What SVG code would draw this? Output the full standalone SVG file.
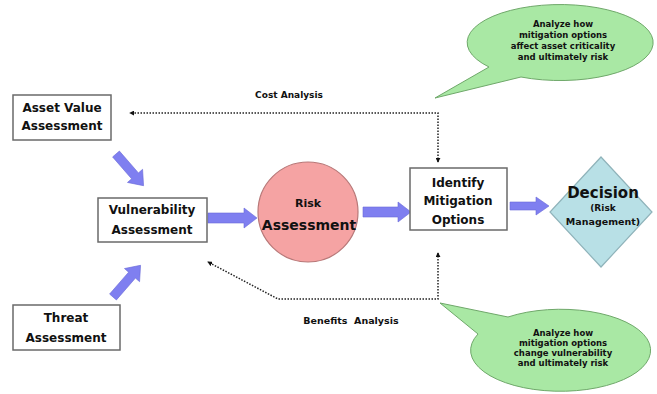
<svg xmlns="http://www.w3.org/2000/svg" xmlns:xlink="http://www.w3.org/1999/xlink" width="657" height="394" viewBox="0 0 657 394">
<style>
.box{fill:#fff;stroke:#6a6a6a;stroke-width:1.5}
.lbl{font-family:"DejaVu Sans","Liberation Sans",sans-serif;font-weight:bold;fill:#111;text-anchor:middle}
.blk{fill:#7f7ff0;stroke:#6a6ad8;stroke-width:0.6}
.dot{fill:none;stroke:#222;stroke-width:1.5;stroke-dasharray:1.5 1.5}
.bub{fill:#a9e8a4;stroke:#6fa86a;stroke-width:1}
</style>
<defs>
<marker id="ah" viewBox="0 0 6 6" refX="5" refY="3" markerWidth="5" markerHeight="5" orient="auto-start-reverse" markerUnits="userSpaceOnUse">
<path d="M0,0 L6,3 L0,6 Z" fill="#111"/>
</marker>
<path id="darrow" d="M0,-4.5 H29 V-10 L42,0 L29,10 V4.5 H0 Z"/>
</defs>
<rect width="657" height="394" fill="#fff"/>

<g id="connectors">
<path class="dot" d="M438,162 V113 H130" marker-start="url(#ah)" marker-end="url(#ah)"/>
<path class="dot" d="M438,253 V299 H278 L208,262" marker-start="url(#ah)" marker-end="url(#ah)"/>
<text class="lbl" x="289" y="98" font-size="9">Cost Analysis</text>
<text class="lbl" x="351" y="324" font-size="9.5" xml:space="preserve">Benefits  Analysis</text>
<use xlink:href="#darrow" class="blk" transform="translate(116,154) rotate(49)"/>
<use xlink:href="#darrow" class="blk" transform="translate(113,297) rotate(-49)"/>
<polygon class="blk" points="208,213 244,213 244,208 257,218 244,228 244,223 208,223"/>
<polygon class="blk" points="363,207 398,207 398,202 411,212 398,222 398,217 363,217"/>
<polygon class="blk" points="510,202 536,202 536,197 549,206 536,215 536,210 510,210"/>
</g>

<g id="asset">
<rect class="box" x="13" y="95" width="98" height="45"/>
<text class="lbl" x="62" y="112" font-size="12">Asset Value</text>
<text class="lbl" x="62" y="130" font-size="12">Assessment</text>
</g>

<g id="vulnerability">
<rect class="box" x="98" y="198" width="109" height="44"/>
<text class="lbl" x="152" y="214" font-size="12">Vulnerability</text>
<text class="lbl" x="152" y="234" font-size="12">Assessment</text>
</g>

<g id="threat">
<rect class="box" x="13" y="305" width="107" height="45"/>
<text class="lbl" x="66" y="322" font-size="12">Threat</text>
<text class="lbl" x="66" y="342" font-size="12">Assessment</text>
</g>

<g id="risk">
<circle cx="308" cy="212" r="50" fill="#f5a3a3" stroke="#b87878" stroke-width="1.2"/>
<text class="lbl" x="308" y="207" font-size="11">Risk</text>
<text class="lbl" x="309" y="230" font-size="14">Assessment</text>
</g>

<g id="identify">
<rect class="box" x="410" y="168" width="97" height="62"/>
<text class="lbl" x="458" y="187" font-size="12">Identify</text>
<text class="lbl" x="458" y="205" font-size="12">Mitigation</text>
<text class="lbl" x="458" y="224" font-size="12">Options</text>
</g>

<g id="decision">
<polygon points="601,157 652,212 601,267 550,212" fill="#b8e0e6" stroke="#8fb3ba" stroke-width="1.2"/>
<text class="lbl" x="603" y="198" font-size="15">Decision</text>
<text class="lbl" x="603" y="211" font-size="9">(Risk</text>
<text class="lbl" x="603" y="225" font-size="9.5">Management)</text>
</g>

<g id="bubble-top">
<path class="bub" d="M521,77 L435,98 L489,67 A93,38 0 1 1 521,77 Z"/>
<text class="lbl" x="563" y="27" font-size="8.5">Analyze how</text>
<text class="lbl" x="563" y="38" font-size="8.5">mitigation options</text>
<text class="lbl" x="563" y="49" font-size="8.5">affect asset criticality</text>
<text class="lbl" x="563" y="60" font-size="8.5">and ultimately risk</text>
</g>

<g id="bubble-bottom">
<path class="bub" d="M478,334 L440,303 L508,317 A90,41 0 1 1 478,334 Z"/>
<text class="lbl" x="563" y="336" font-size="8.5">Analyze how</text>
<text class="lbl" x="563" y="346" font-size="8.5">mitigation options</text>
<text class="lbl" x="563" y="356" font-size="8.5">change vulnerability</text>
<text class="lbl" x="563" y="366" font-size="8.5">and ultimately risk</text>
</g>
</svg>
